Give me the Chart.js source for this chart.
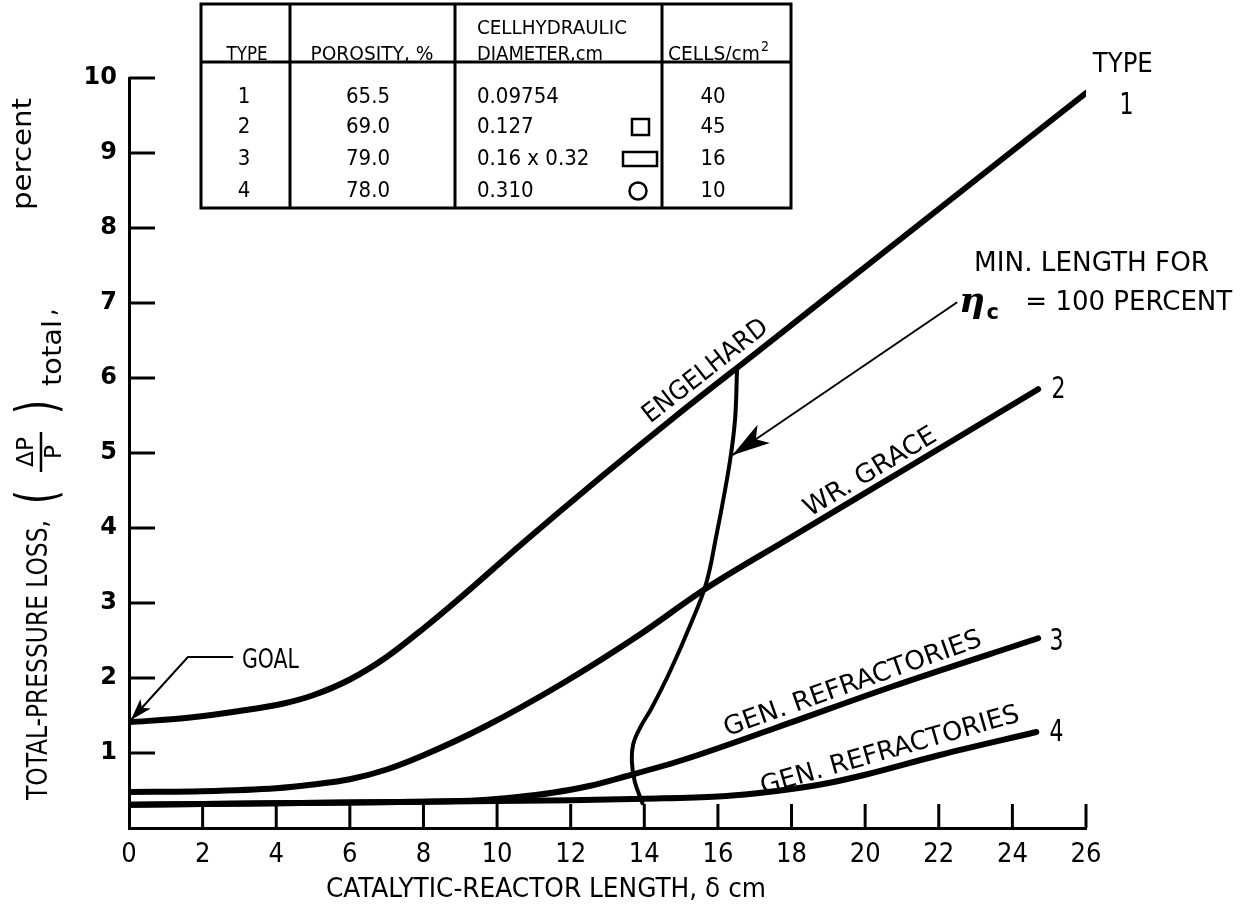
<!DOCTYPE html>
<html>
<head>
<meta charset="utf-8">
<title>Total-pressure loss vs catalytic-reactor length</title>
<script src="https://cdn.jsdelivr.net/npm/chart.js@4.4.1/dist/chart.umd.min.js"></script>
<style>
  html, body { margin: 0; padding: 0; background: #fff; }
  #wrap { position: relative; width: 1251px; height: 918px; }
</style>
</head>
<body>
<div id="wrap"><canvas id="chart" width="1251" height="918"></canvas></div>
<script>
// === Data ===
const type1X = [0, 1.6, 3, 4.2, 5, 6, 7, 8, 9, 10.7, 12.8, 14.9, 17, 20, 23, 26];
const type1Y = [1.41, 1.47, 1.56, 1.66, 1.77, 1.98, 2.28, 2.66, 3.07, 3.8, 4.67, 5.51, 6.32, 7.48, 8.64, 9.8];

const type2X = [0, 2, 4, 5, 6, 7, 8, 9.66, 11.75, 13.85, 15.6, 18, 21, 24.7];
const type2Y = [0.48, 0.49, 0.53, 0.58, 0.65, 0.78, 0.97, 1.35, 1.92, 2.57, 3.17, 3.88, 4.76, 5.85];

const type3X = [0, 4, 8, 9.5, 10.5, 11.5, 12.5, 13.5, 15, 17.6, 20.7, 24.7];
const type3Y = [0.31, 0.33, 0.35, 0.37, 0.41, 0.47, 0.56, 0.69, 0.9, 1.34, 1.88, 2.53];

const type4X = [0, 4, 8, 12, 14, 16, 17, 18, 19, 20, 22, 24.65];
const type4Y = [0.31, 0.33, 0.35, 0.37, 0.39, 0.42, 0.46, 0.52, 0.6, 0.71, 0.97, 1.28];

// min. length for eta_c = 100 percent (x depends on y here)
const minLenX = [13.95, 13.74, 13.66, 13.7, 13.9, 14.2, 14.71, 15.27, 15.68, 15.95, 16.18, 16.36, 16.47, 16.52];
const minLenY = [0.33, 0.62, 0.9, 1.12, 1.35, 1.6, 2.1, 2.73, 3.26, 3.88, 4.47, 5.0, 5.48, 6.12];

// tick labels
const xTickStep = 2;
const yTickStep = 1;

// === Table ===
const tableTypes = ['1', '2', '3', '4'];
const tablePorosity = ['65.5', '69.0', '79.0', '78.0'];
const tableDiameter = ['0.09754', '0.127', '0.16 x 0.32', '0.310'];
const tableShape = ['', 'square', 'rect', 'circle'];
const tableCells = ['40', '45', '16', '10'];

const FONT = '"DejaVu Sans Condensed", "Liberation Sans Narrow", "DejaVu Sans", sans-serif';

function series(xs, ys) {
    return xs.map((x, i) => ({ x: x, y: ys[i] }));
}

function line(xs, ys, width, mono) {
    return {
        data: series(xs, ys),
        showLine: true,
        borderColor: '#000',
        borderWidth: width,
        borderCapStyle: 'round',
        pointRadius: 0,
        fill: false,
        cubicInterpolationMode: mono ? 'monotone' : 'default',
        tension: mono ? 0 : 0.4
    };
}

// === Labels along curves (data coords, slope in data units, w = text length in px) ===
const curveLabels = [
    { text: 'ENGELHARD', x: 15.95, y: 5.91, slope: 0.386, off: 10, w: 152 },
    { text: 'WR. GRACE', x: 20.35, y: 4.57, slope: 0.295, off: 8, w: 150 },
    { text: 'GEN. REFRACTORIES', x: 19.8, y: 1.73, slope: 0.174, off: 8, w: 272 },
    { text: 'GEN. REFRACTORIES', x: 20.8, y: 0.81, slope: 0.14, off: 10, w: 268 }
];

// text squeezed/stretched to a given width (the lettering is tall and narrow)
function fitText(ctx, s, x, y, size, width, align, baseline, family) {
    ctx.save();
    ctx.font = size + 'px ' + (family || FONT);
    ctx.textAlign = align || 'left';
    ctx.textBaseline = baseline || 'middle';
    const w = ctx.measureText(s).width;
    const k = width ? width / w : 1;
    ctx.translate(x, y);
    ctx.scale(k, 1);
    ctx.fillText(s, 0, 0);
    ctx.restore();
    return w * k;
}

function arrowHead(ctx, x1, y1, x2, y2, len, half) {
    const a = Math.atan2(y2 - y1, x2 - x1);
    ctx.beginPath();
    ctx.moveTo(x2, y2);
    ctx.lineTo(x2 - len * Math.cos(a) + half * Math.sin(a), y2 - len * Math.sin(a) - half * Math.cos(a));
    ctx.lineTo(x2 - len * 0.75 * Math.cos(a), y2 - len * 0.75 * Math.sin(a));
    ctx.lineTo(x2 - len * Math.cos(a) - half * Math.sin(a), y2 - len * Math.sin(a) + half * Math.cos(a));
    ctx.closePath();
    ctx.fill();
}

const overlay = {
    id: 'overlay',
    afterDraw(chart) {
        const ctx = chart.ctx;
        const sx = chart.scales.x, sy = chart.scales.y;
        const X = v => sx.getPixelForValue(v);
        const Y = v => sy.getPixelForValue(v);
        ctx.save();
        ctx.fillStyle = '#000';
        ctx.strokeStyle = '#000';
        ctx.lineCap = 'butt';

        // inward tick marks
        ctx.lineWidth = 3;
        sx.ticks.forEach(t => {
            if (t.value <= 0) return;
            ctx.beginPath();
            ctx.moveTo(X(t.value), Y(0));
            ctx.lineTo(X(t.value), Y(0) - 24);
            ctx.stroke();
        });
        sy.ticks.forEach(t => {
            if (t.value <= 0) return;
            ctx.beginPath();
            ctx.moveTo(X(0), Y(t.value));
            ctx.lineTo(X(0) + 26, Y(t.value));
            ctx.stroke();
        });

        // curve labels
        curveLabels.forEach(l => {
            const ang = Math.atan2(Y(l.y) - Y(l.y + l.slope), X(l.x + 1) - X(l.x));
            ctx.save();
            ctx.translate(X(l.x), Y(l.y));
            ctx.rotate(-ang);
            fitText(ctx, l.text, 0, -l.off, 26, l.w, 'center', 'alphabetic');
            ctx.restore();
        });

        // end labels
        fitText(ctx, 'TYPE', X(27.0), Y(10.18), 27, 60, 'center');
        fitText(ctx, '1', X(27.1), Y(9.62), 30, 14, 'center');
        fitText(ctx, '2', X(25.25), Y(5.84), 30, 14, 'center');
        fitText(ctx, '3', X(25.2), Y(2.48), 30, 14, 'center');
        fitText(ctx, '4', X(25.2), Y(1.27), 30, 14, 'center');

        // GOAL
        fitText(ctx, 'GOAL', X(3.07), Y(2.22), 26, 57, 'left');
        ctx.lineWidth = 2;
        ctx.beginPath();
        ctx.moveTo(X(2.83), Y(2.28));
        ctx.lineTo(X(1.6), Y(2.28));
        ctx.lineTo(X(0.05), Y(1.44));
        ctx.stroke();
        arrowHead(ctx, X(1.6), Y(2.28), X(0.05), Y(1.44), 22, 7);

        // min length note
        fitText(ctx, 'MIN. LENGTH FOR', X(22.96), Y(7.52), 27, 235, 'left');
        ctx.font = 'bold italic 36px "DejaVu Serif", serif';
        ctx.textAlign = 'left';
        ctx.textBaseline = 'middle';
        ctx.fillText('\u03b7', X(22.55), Y(7.0));
        ctx.font = 'bold 21px "DejaVu Sans", sans-serif';
        ctx.fillText('c', X(23.3), Y(6.86));
        fitText(ctx, '= 100 PERCENT', X(24.35), Y(7.0), 27, 207, 'left');
        ctx.lineWidth = 2;
        ctx.beginPath();
        ctx.moveTo(X(22.5), Y(7.01));
        ctx.lineTo(X(16.39), Y(4.97));
        ctx.stroke();
        arrowHead(ctx, X(22.5), Y(7.01), X(16.39), Y(4.97), 38, 11);

        // table
        const tl = 201, tr = 791, tt = 4, tb = 208, th = 62;
        const cols = [290, 455, 662];
        ctx.lineWidth = 3;
        ctx.strokeRect(tl, tt, tr - tl, tb - tt);
        ctx.beginPath();
        ctx.moveTo(tl, th); ctx.lineTo(tr, th);
        cols.forEach(c => { ctx.moveTo(c, tt); ctx.lineTo(c, tb); });
        ctx.stroke();
        fitText(ctx, 'TYPE', 247, 60, 19, 41, 'center', 'alphabetic');
        fitText(ctx, 'POROSITY, %', 372, 60, 19, 123, 'center', 'alphabetic');
        fitText(ctx, 'CELLHYDRAULIC', 477, 34, 19, 150, 'left', 'alphabetic');
        fitText(ctx, 'DIAMETER,cm', 477, 60, 19, 126, 'left', 'alphabetic');
        const cw = fitText(ctx, 'CELLS/cm', 668, 60, 19, 92, 'left', 'alphabetic');
        fitText(ctx, '2', 668 + cw + 1, 51, 14, null, 'left', 'alphabetic');

        const rowY = [97, 127, 159, 191];
        tableTypes.forEach((t, i) => {
            const ry = rowY[i];
            fitText(ctx, t, 244, ry, 22, null, 'center');
            fitText(ctx, tablePorosity[i], 368, ry, 22, null, 'center');
            fitText(ctx, tableCells[i], 713, ry, 22, null, 'center');
            fitText(ctx, tableDiameter[i], 477, ry, 22, null, 'left');
            ctx.lineWidth = 2.5;
            if (tableShape[i] === 'square') ctx.strokeRect(632, ry - 8, 17, 16);
            if (tableShape[i] === 'rect') ctx.strokeRect(623, ry - 7, 34, 14);
            if (tableShape[i] === 'circle') {
                ctx.beginPath();
                ctx.arc(638, ry, 8.5, 0, Math.PI * 2);
                ctx.stroke();
            }
        });

        // x axis title
        fitText(ctx, 'CATALYTIC-REACTOR LENGTH, \u03b4 cm', 546, 890, 26, 440, 'center');

        // y axis title (rotated, reads bottom to top; +q is to the right on screen)
        ctx.save();
        ctx.translate(0, 800);
        ctx.rotate(-Math.PI / 2);
        fitText(ctx, 'TOTAL-PRESSURE LOSS,', 0, 40, 28, 280, 'left');
        // (dP / P)
        fitText(ctx, '(', 296, 40, 56, 14, 'left', 'middle', '"DejaVu Sans", sans-serif');
        fitText(ctx, '\u0394P', 348, 27, 23, 30, 'center');
        fitText(ctx, 'P', 348, 55, 23, 14, 'center');
        ctx.lineWidth = 2.5;
        ctx.beginPath(); ctx.moveTo(328, 41); ctx.lineTo(368, 41); ctx.stroke();
        fitText(ctx, ')', 386, 40, 56, 14, 'left', 'middle', '"DejaVu Sans", sans-serif');
        fitText(ctx, 'total', 414, 54, 26, 66, 'left');
        fitText(ctx, ',', 484, 48, 26, null, 'left');
        fitText(ctx, 'percent', 590, 24, 26, 112, 'left');
        ctx.restore();

        ctx.restore();
    }
};

const chart = new Chart(document.getElementById('chart'), {
    type: 'scatter',
    data: {
        datasets: [
            line(type1X, type1Y, 6, true),
            line(type2X, type2Y, 6, true),
            line(type3X, type3Y, 6, true),
            line(type4X, type4Y, 6, true),
            line(minLenX, minLenY, 4, false)
        ]
    },
    options: {
        responsive: false,
        animation: false,
        events: [],
        layout: { padding: { top: 78, right: 165, left: 0, bottom: 0 } },
        plugins: { legend: { display: false }, tooltip: { enabled: false } },
        scales: {
            x: {
                type: 'linear', min: 0, max: 26,
                grid: { display: false, drawTicks: false },
                border: { display: true, width: 3, color: '#000' },
                ticks: { stepSize: xTickStep, padding: 11, color: '#000', maxRotation: 0, autoSkip: false,
                         font: { family: FONT, size: 27 } },
                afterFit(s) { s.height = 90; }
            },
            y: {
                type: 'linear', min: 0, max: 10,
                grid: { display: false, drawTicks: false },
                border: { display: true, width: 3, color: '#000' },
                ticks: { stepSize: yTickStep, padding: 12, color: '#000',
                         font: { family: '"DejaVu Sans", sans-serif', size: 24, weight: 'bold' },
                         callback: v => (v === 0 ? '' : v) },
                afterFit(s) { s.width = 129; }
            }
        }
    },
    plugins: [overlay]
});
</script>
</body>
</html>
